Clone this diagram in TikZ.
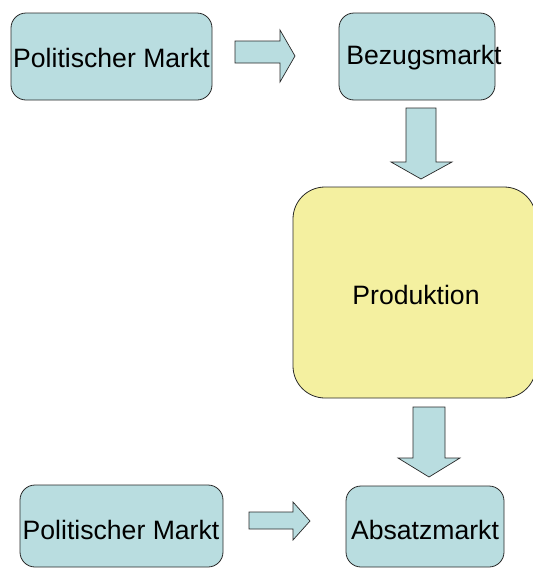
\documentclass[tikz,border=0pt]{standalone}
\usepackage{fontspec}
\setmainfont{Liberation Sans}
\usetikzlibrary{positioning}
\definecolor{boxblue}{RGB}{185,221,224}
\definecolor{boxyellow}{RGB}{244,240,160}
\definecolor{edgegray}{RGB}{40,40,40}
\tikzset{
  market/.style={draw=edgegray, line width=0.8pt, fill=boxblue, rounded corners=15pt},
  prodbox/.style={draw=edgegray, line width=0.8pt, fill=boxyellow, rounded corners=32pt},
  blockarrow/.style={draw=edgegray, line width=0.7pt, fill=boxblue},
  lbl/.style={font=\fontsize{26.6}{31}\selectfont, text=black, inner sep=0pt}
}
\begin{document}
\begin{tikzpicture}[x=1pt,y=-1pt]
\useasboundingbox (0,0) rectangle (533,568);
\clip (0,0) rectangle (533,568);
% boxes
\draw[market] (11,13) rectangle (212,100);
\node[lbl] (pm1) at (111.5,58) {Politischer Markt};
\draw[market] (339,13) rectangle (495,100);
\node[lbl] (bm) at (424,58) {Bezugsmarkt};
\draw[prodbox] (293,187) rectangle (536,398);
\node[lbl] (pr) at (416,295) {Produktion};
\draw[market] (346,486) rectangle (504,567);
\node[lbl] (am) at (425,530) {Absatzmarkt};
\draw[market] (20,485) rectangle (223,567);
\node[lbl] (pm2) at (121,530) {Politischer Markt};
% block arrows
\draw[blockarrow] (235,41) -- (280,41) -- (280,30) -- (295,56) -- (280,82) -- (280,63) -- (235,63) -- cycle;
\draw[blockarrow] (406,108) -- (436,108) -- (436,162) -- (452,162) -- (421,179) -- (391,162) -- (406,162) -- cycle;
\draw[blockarrow] (413,407) -- (445,407) -- (445,458) -- (460,458) -- (429,477) -- (398,458) -- (413,458) -- cycle;
\draw[blockarrow] (249,512) -- (293,512) -- (293,502) -- (310,521) -- (293,540) -- (293,529) -- (249,529) -- cycle;
\end{tikzpicture}
\end{document}
